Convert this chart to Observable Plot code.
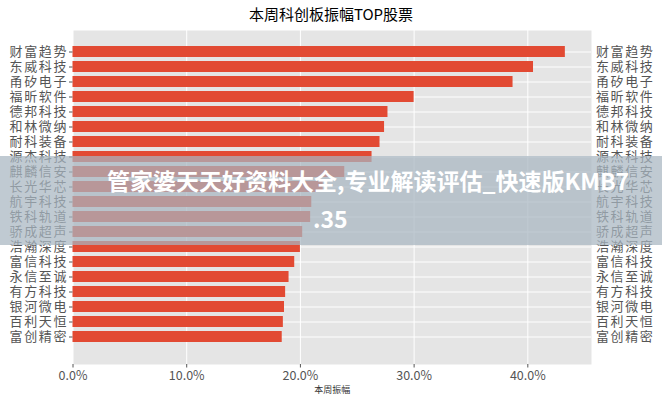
<!DOCTYPE html>
<html>
<head>
<meta charset="utf-8">
<script src="https://cdn.jsdelivr.net/npm/d3@7"></script>
<script src="https://cdn.jsdelivr.net/npm/@observablehq/plot@0.6"></script>
<style>
  body { margin: 0; background: #fff; font-family: "Noto Sans CJK SC", sans-serif; }
  #wrap { position: relative; width: 662px; height: 400px; overflow: hidden; }
  #title { height: 24px; line-height: 28px; text-align: center; font-size: 15px; color: #000; }
  #band { position: absolute; left: 0; top: 156px; width: 662px; height: 89px; background: rgba(168, 182, 192, 0.72); }
  .wm { position: absolute; color: #fff; font-weight: 700; font-size: 23px; white-space: nowrap; line-height: 1; }
  .ylab text { letter-spacing: 1.6px; }
</style>
</head>
<body>
<div id="wrap">
  <div id="title"></div>
  <div id="chart"></div>
  <div id="band"></div>
  <div class="wm" id="wm1" style="left:107px;top:169px;"></div>
  <div class="wm" id="wm2" style="left:313px;top:207px;"></div>
</div>
<script>
const chartTitle = "本周科创板振幅TOP股票";
const axisTitle = "本周振幅";
const stocks = ["财富趋势","东威科技","甬矽电子","福昕软件","德邦科技","和林微纳","耐科装备","源杰科技","麒麟信安","长光华芯","航宇科技","铁科轨道","骄成超声","浩瀚深度","富信科技","永信至诚","有方科技","银河微电","百利天恒","富创精密"];
const amplitude = [43.3,40.5,38.7,30.0,27.7,27.4,27.0,26.3,23.9,22.0,21.0,20.9,20.2,20.0,19.5,19.0,18.7,18.6,18.5,18.4];
const xTicks = [0,10,20,30,40];
const xTickLabels = ["0.0%","10.0%","20.0%","30.0%","40.0%"];
const watermarkLines = ["管家婆天天好资料大全,专业解读评估_快速版KMB7", ".35"];

document.getElementById("title").textContent = chartTitle;
document.getElementById("wm1").textContent = watermarkLines[0];
document.getElementById("wm2").textContent = watermarkLines[1];

const data = stocks.map((name, i) => ({name, value: amplitude[i]}));
const font = '"Noto Sans CJK SC", sans-serif';

const chart = Plot.plot({
  width: 662,
  height: 376,
  marginTop: 6,
  marginBottom: 36,
  marginLeft: 72.5,
  marginRight: 71,
  style: {fontFamily: font, background: "transparent", overflow: "visible"},
  x: {domain: [0, 45.6], label: null},
  y: {domain: stocks, range: [12.33, 327.07], paddingInner: 0.26, paddingOuter: 0.13, label: null},
  marks: [
    Plot.frame({fill: "#E5E5E5", stroke: null}),
    Plot.gridX(xTicks, {stroke: "#ffffff", strokeOpacity: 1, strokeWidth: 1}),
    Plot.gridY(stocks, {stroke: "#ffffff", strokeOpacity: 1, strokeWidth: 1}),
    Plot.barX(data, {x: "value", y: "name", fill: "#E24A33"}),
    Plot.axisX(xTicks, {
      anchor: "bottom", tickSize: 3.5, tickPadding: 3, stroke: "#555",
      tickFormat: (d) => xTickLabels[xTicks.indexOf(d)],
      fontSize: 12.5, fill: "#555", label: null
    }),
    Plot.axisY({anchor: "left", tickSize: 3.5, tickPadding: 1.5, stroke: "#555", fontSize: 13, fill: "#555", label: null, className: "ylab"}),
    Plot.axisY({anchor: "right", tickSize: 0, tickPadding: 4.5, fontSize: 13, fill: "#555", label: null, className: "ylab"}),
    Plot.text([axisTitle], {frameAnchor: "bottom", dy: 28, fontSize: 9, fill: "#333", text: d => d})
  ]
});
document.getElementById("chart").appendChild(chart);
</script>
</body>
</html>
